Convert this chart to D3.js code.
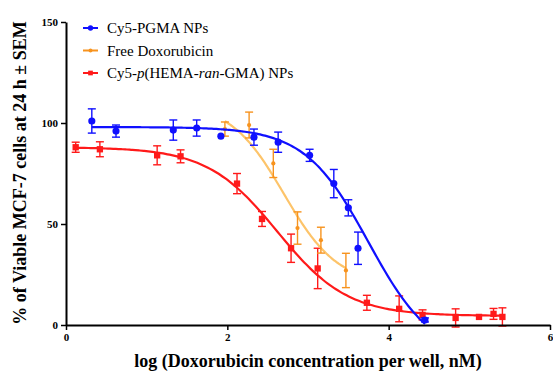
<!DOCTYPE html>
<html>
<head>
<meta charset="utf-8">
<script src="https://cdn.jsdelivr.net/npm/d3@7"></script>
<style>
  body { margin: 0; background: #fff; }
  text { font-family: "Liberation Serif", "Times New Roman", serif; }
</style>
</head>
<body>
<div id="chart"></div>
<script>
// Chart size and plot edges.
const width = 553;
const height = 373;
const margin = { top: 22, right: 3, bottom: 48, left: 66 };

// Tick values.
const xTicks = [0, 2, 4, 6];
const yTicks = [0, 50, 100, 150];

// Cy5-PGMA NPs: log conc, mean, SEM.
const pgmaX = [0.32, 0.62, 1.33, 1.62, 1.92, 2.33, 2.63, 3.02, 3.32, 3.5, 3.62, 4.45];
const pgmaY = [101, 96, 96.5, 97.5, 93.5, 93, 90.5, 84, 70, 58, 38, 2.5];
const pgmaE = [6, 3, 5, 4, 0, 4, 5, 3, 7, 4, 8, 1];

// Free Doxorubicin.
const doxX = [1.97, 2.27, 2.57, 2.87, 3.16, 3.47];
const doxY = [97, 99, 80, 48, 42, 27];
const doxE = [3.5, 6.4, 7, 8, 6.4, 8.5];

// Cy5-p(HEMA-ran-GMA) NPs.
const hemaX = [0.12, 0.42, 1.13, 1.42, 2.12, 2.43, 2.79, 3.12, 3.73, 4.13, 4.42, 4.83, 5.12, 5.3, 5.41];
const hemaY = [88, 87, 84, 83.5, 70, 52.5, 38, 28, 11, 8, 5, 3.5, 4, 5.5, 4];
const hemaE = [2.5, 3.7, 4.7, 3.2, 5, 3.7, 7, 10, 3.7, 6.4, 2.5, 4.5, 0, 2.7, 4.5];

// Fitted curve parameters: top, bottom, logIC50, hill slope.
const pgmaFit = [98, -16, 3.75, 1.1];
const doxFit = [110, 20, 2.7, 1.3];
const hemaFit = [88, 4.5, 2.62, 1.0];

const svg = d3.select("#chart")
  .append("svg")
  .attr("width", width)
  .attr("height", height);

const x = d3.scaleLinear()
  .domain([0, 6])
  .range([margin.left, width - margin.right]);

const y = d3.scaleLinear()
  .domain([0, 150])
  .range([height - margin.bottom, margin.top]);

function fourPL(p, v) {
  return p[1] + (p[0] - p[1]) / (1 + Math.pow(10, (v - p[2]) * p[3]));
}

const line = d3.line()
  .x(function(d) { return x(d[0]); })
  .y(function(d) { return y(d[1]); })
  .curve(d3.curveBasis);

function drawSeries(xs, ys, es, fit, pointColor, curveColor, shape, size) {
  const lo = d3.min(xs), hi = d3.max(xs);
  const pts = d3.range(0, 101).map(function(i) {
    const v = lo + (hi - lo) * i / 100;
    return [v, fourPL(fit, v)];
  });
  svg.append("path")
    .attr("d", line(pts))
    .attr("fill", "none")
    .attr("stroke", curveColor)
    .attr("stroke-width", 2.2);

  const data = xs.map(function(v, i) { return { x: v, y: ys[i], e: es[i] }; });
  const g = svg.append("g").attr("stroke", pointColor).attr("stroke-width", 1.4);
  data.filter(function(d) { return d.e > 0; }).forEach(function(d) {
    g.append("line").attr("x1", x(d.x)).attr("x2", x(d.x))
      .attr("y1", y(d.y - d.e)).attr("y2", y(d.y + d.e));
    g.append("line").attr("x1", x(d.x) - 4).attr("x2", x(d.x) + 4)
      .attr("y1", y(d.y - d.e)).attr("y2", y(d.y - d.e));
    g.append("line").attr("x1", x(d.x) - 4).attr("x2", x(d.x) + 4)
      .attr("y1", y(d.y + d.e)).attr("y2", y(d.y + d.e));
  });
  svg.append("g").selectAll("path")
    .data(data)
    .enter()
    .append("path")
    .attr("transform", function(d) { return "translate(" + x(d.x) + "," + y(d.y) + ")"; })
    .attr("d", d3.symbol().type(shape).size(size))
    .attr("fill", pointColor);
}

drawSeries(hemaX, hemaY, hemaE, hemaFit, "#ff1a1a", "#ff1a1a", d3.symbolSquare, 40);
drawSeries(doxX, doxY, doxE, doxFit, "#f7931e", "#fdc46a", d3.symbolCircle, 14);
drawSeries(pgmaX, pgmaY, pgmaE, pgmaFit, "#1010ff", "#1010ff", d3.symbolCircle, 40);

// Axes.
const xAxis = svg.append("g")
  .attr("transform", "translate(0," + y(0) + ")")
  .call(d3.axisBottom(x).tickValues(xTicks).tickFormat(d3.format("d")).tickSize(5).tickSizeOuter(0));
const yAxis = svg.append("g")
  .attr("transform", "translate(" + x(0) + ",0)")
  .call(d3.axisLeft(y).tickValues(yTicks).tickSize(5).tickSizeOuter(0));

[xAxis, yAxis].forEach(function(a) {
  a.selectAll(".domain").attr("stroke", "#000").attr("stroke-width", 2);
  a.selectAll(".tick line").attr("stroke", "#000").attr("stroke-width", 1.5);
  a.selectAll("text")
    .attr("fill", "#000")
    .style("font-family", "'Liberation Serif', serif")
    .style("font-weight", "bold")
    .style("font-size", "11px");
});

// Axis titles.
svg.append("text")
  .attr("x", 308)
  .attr("y", 367)
  .attr("text-anchor", "middle")
  .style("font-weight", "bold")
  .style("font-size", "18px")
  .text("log (Doxorubicin concentration per well, nM)");

svg.append("text")
  .attr("transform", "translate(26," + 173 + ") rotate(-90)")
  .attr("text-anchor", "middle")
  .style("font-weight", "bold")
  .style("font-size", "18px")
  .text("% of Viable MCF-7 cells at 24 h \u00b1 SEM");

// Legend.
const legend = [
  { label: ["Cy5-PGMA NPs"], color: "#1010ff", shape: d3.symbolCircle, size: 22 },
  { label: ["Free Doxorubicin"], color: "#f7931e", shape: d3.symbolCircle, size: 12 },
  { label: ["Cy5-", "p", "(HEMA-", "ran", "-GMA) NPs"], color: "#ff1a1a", shape: d3.symbolSquare, size: 22 }
];
legend.forEach(function(d, i) {
  const ly = 28 + i * 22.5;
  svg.append("line")
    .attr("x1", 83).attr("x2", 98)
    .attr("y1", ly).attr("y2", ly)
    .attr("stroke", d.color).attr("stroke-width", 2);
  svg.append("path")
    .attr("transform", "translate(90.5," + ly + ")")
    .attr("d", d3.symbol().type(d.shape).size(d.size))
    .attr("fill", d.color);
  const t = svg.append("text")
    .attr("x", 107)
    .attr("y", ly + 5)
    .style("font-size", "15px");
  d.label.forEach(function(s, j) {
    t.append("tspan")
      .style("font-style", (d.label.length > 1 && (j === 1 || j === 3)) ? "italic" : "normal")
      .text(s);
  });
});
</script>
</body>
</html>
